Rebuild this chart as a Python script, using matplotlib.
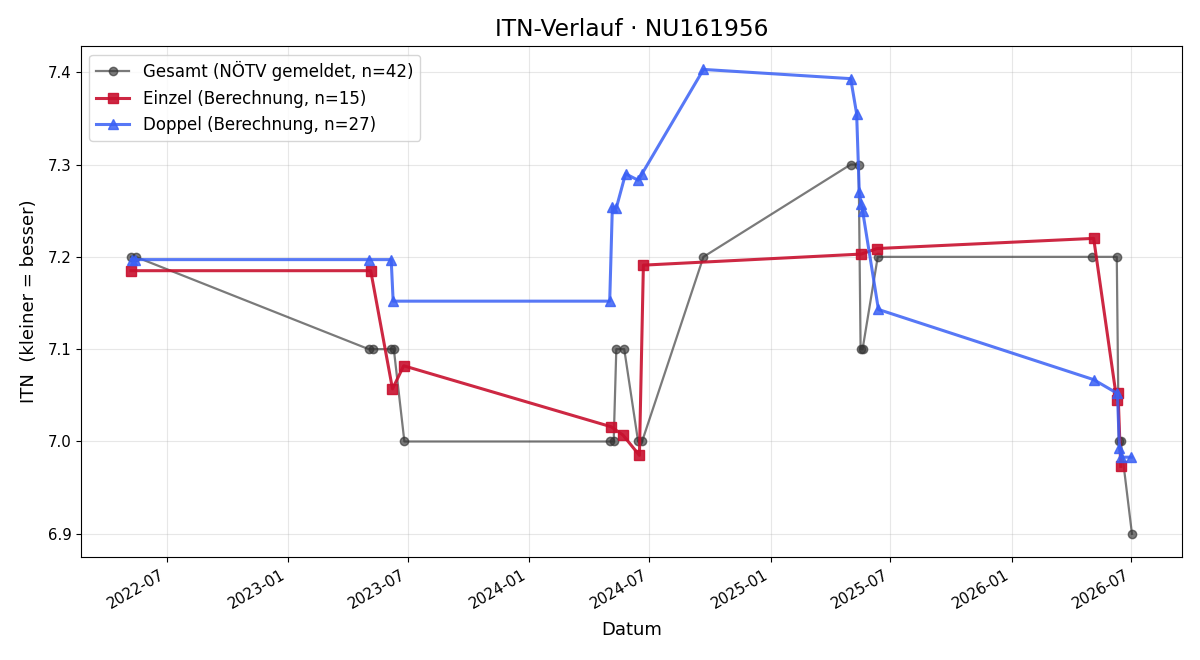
import matplotlib
matplotlib.use("Agg")
import matplotlib.pyplot as plt
import matplotlib.dates as mdates
import pandas as pd

# Gesamt (NÖTV gemeldet)
gesamt_dates = ["2022-05-08", "2022-05-15", "2023-05-03", "2023-05-09", "2023-06-05",
                "2023-06-10", "2023-06-26", "2024-05-03", "2024-05-08", "2024-05-12",
                "2024-05-24", "2024-06-14", "2024-06-20", "2024-09-21", "2025-05-02",
                "2025-05-14", "2025-05-17", "2025-05-20", "2025-06-12", "2026-05-03",
                "2026-06-09", "2026-06-12", "2026-06-15", "2026-07-02"]
gesamt_itn = [7.2, 7.2, 7.1, 7.1, 7.1,
              7.1, 7.0, 7.0, 7.0, 7.1,
              7.1, 7.0, 7.0, 7.2, 7.3,
              7.3, 7.1, 7.1, 7.2, 7.2,
              7.2, 7.0, 7.0, 6.9]

# Einzel (Berechnung)
einzel_dates = ["2022-05-08", "2023-05-06", "2023-06-08", "2023-06-25", "2024-05-04",
                "2024-05-22", "2024-06-16", "2024-06-22", "2025-05-18", "2025-06-11",
                "2026-05-05", "2026-06-09", "2026-06-11", "2026-06-15"]
einzel_itn = [7.185, 7.185, 7.057, 7.082, 7.016,
              7.007, 6.985, 7.191, 7.203, 7.209,
              7.220, 7.045, 7.052, 6.973]

# Doppel (Berechnung)
doppel_dates = ["2022-05-09", "2022-05-14", "2023-05-04", "2023-06-06", "2023-06-09",
                "2024-05-02", "2024-05-06", "2024-05-12", "2024-05-26", "2024-06-14",
                "2024-06-20", "2024-09-21", "2025-05-02", "2025-05-11", "2025-05-15",
                "2025-05-18", "2025-05-20", "2025-06-13", "2026-05-05", "2026-06-10",
                "2026-06-13", "2026-06-16", "2026-07-01"]
doppel_itn = [7.197, 7.197, 7.197, 7.197, 7.152,
              7.152, 7.254, 7.253, 7.290, 7.283,
              7.290, 7.403, 7.393, 7.355, 7.270,
              7.257, 7.250, 7.143, 7.067, 7.052,
              6.993, 6.983, 6.983]

fig, ax = plt.subplots(figsize=(12, 6.6), dpi=100)

ax.plot(pd.to_datetime(gesamt_dates), gesamt_itn, marker="o", color="#333333",
        alpha=0.65, lw=1.6, markersize=6, label="Gesamt (NÖTV gemeldet, n=42)")
ax.plot(pd.to_datetime(einzel_dates), einzel_itn, marker="s", color="#c8102e",
        alpha=0.9, lw=2.2, markersize=7, label="Einzel (Berechnung, n=15)")
ax.plot(pd.to_datetime(doppel_dates), doppel_itn, marker="^", color="#3a60f5",
        alpha=0.85, lw=2.2, markersize=7, label="Doppel (Berechnung, n=27)")

ax.xaxis.set_major_locator(mdates.MonthLocator(bymonth=[1, 7]))
ax.xaxis.set_major_formatter(mdates.DateFormatter("%Y-%m"))
ax.tick_params(labelsize=10.8)
ax.set_title("ITN-Verlauf · NU161956", fontsize=16.8, pad=7)
ax.set_xlabel("Datum", fontsize=13, labelpad=7)
ax.set_ylabel("ITN  (kleiner = besser)", fontsize=13, labelpad=7)
ax.grid(True, alpha=0.3)
ax.legend(loc="upper left", fontsize=12)
fig.autofmt_xdate()
fig.subplots_adjust(left=0.0675, right=0.985, top=0.930, bottom=0.156)
plt.savefig("out.png")
plt.close()
